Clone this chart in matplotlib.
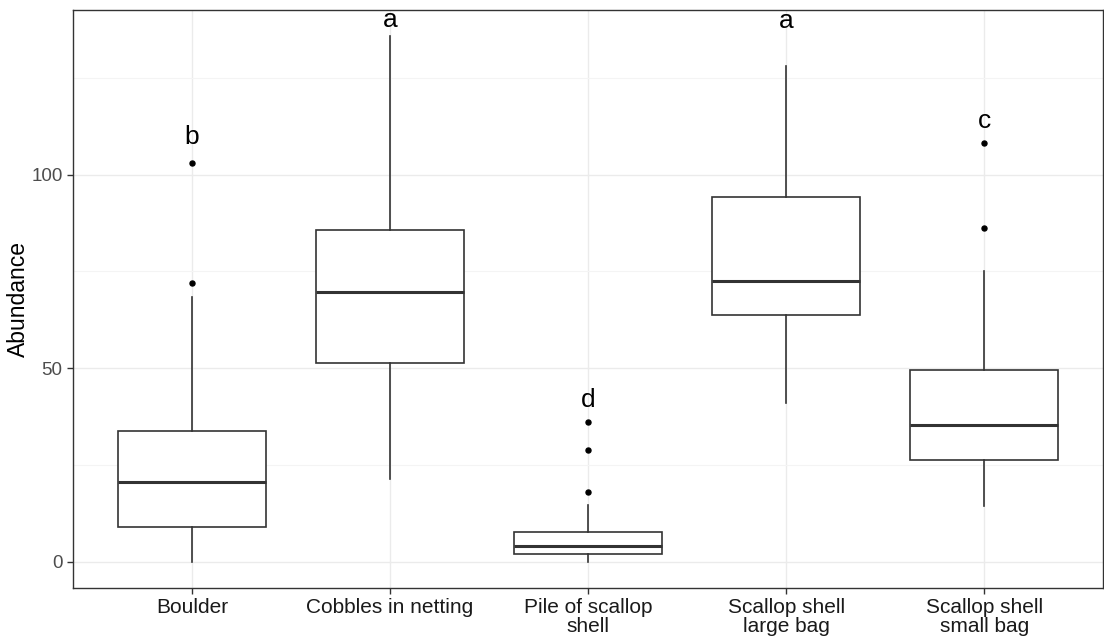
import numpy as np
import matplotlib.pyplot as plt
from matplotlib.ticker import MultipleLocator

plt.rcParams['font.family'] = ['Liberation Sans', 'DejaVu Sans']

# ── Data: box summaries per habitat ──────────────────────────────
categories = ["Boulder", "Cobbles in netting", "Pile of scallop\nshell",
              "Scallop shell\nlarge bag", "Scallop shell\nsmall bag"]
q1      = [9.0, 51.4, 2.1, 63.7, 26.2]
median  = [20.5, 69.6, 4.1, 72.6, 35.3]
q3      = [33.7, 85.7, 7.6, 94.1, 49.5]
wlo     = [0.0, 21.3, 0.0, 41.1, 14.3]
whi     = [68.4, 135.9, 14.7, 128.0, 75.0]
fliers  = [[72.0, 103.0], [], [17.9, 28.9, 36.0], [], [86.1, 108.1]]

# significance letters and where they sit
letters   = ["b", "a", "d", "a", "c"]
letter_y  = [109.6, 139.8, 41.7, 139.6, 113.9]

# ── Build stats for bxp ──────────────────────────────────────────
stats = []
for i in range(len(categories)):
    stats.append(dict(med=median[i], q1=q1[i], q3=q3[i],
                      whislo=wlo[i], whishi=whi[i], fliers=fliers[i]))

fig = plt.figure(figsize=(11.04, 6.43), dpi=100)
ax = fig.add_axes([73 / 1104, 55 / 643, 1030 / 1104, 578 / 643])

x = np.arange(1, len(categories) + 1)
edge = "#333333"
ax.bxp(stats, positions=x, widths=0.75, showcaps=False, patch_artist=True,
       boxprops=dict(facecolor="white", edgecolor=edge, linewidth=1.2),
       whiskerprops=dict(color=edge, linewidth=1.2),
       medianprops=dict(color=edge, linewidth=2.2),
       flierprops=dict(marker="o", markersize=3.6, markerfacecolor="black",
                       markeredgecolor="black"),
       zorder=3)

for xi, lab, yv in zip(x, letters, letter_y):
    ax.text(xi, yv, lab, ha="center", va="center", fontsize=19, color="black")

# ── Axes styling (white background, light grid) ──────────────────
ax.set_xlim(0.4, 5.6)
ax.set_ylim(-6.8, 142.5)
ax.set_xticks(x)
ax.set_xticklabels(categories, fontsize=15, color="#1a1a1a", linespacing=0.95)
ax.yaxis.set_major_locator(MultipleLocator(50))
ax.yaxis.set_minor_locator(MultipleLocator(25))
ax.tick_params(axis="y", labelsize=13.5, labelcolor="#4D4D4D")
ax.tick_params(axis="both", which="major", length=4, width=1, color="#333333")
ax.tick_params(axis="y", which="minor", length=0)
ax.set_ylabel("Abundance", fontsize=16.5, labelpad=1)

ax.grid(True, which="major", color="#EBEBEB", linewidth=1.0, zorder=0)
ax.grid(True, which="minor", axis="y", color="#F4F4F4", linewidth=0.8, zorder=0)
ax.set_axisbelow(True)
for s in ax.spines.values():
    s.set_color("#333333")
    s.set_linewidth(1.0)

plt.savefig("out.png", dpi=100)
